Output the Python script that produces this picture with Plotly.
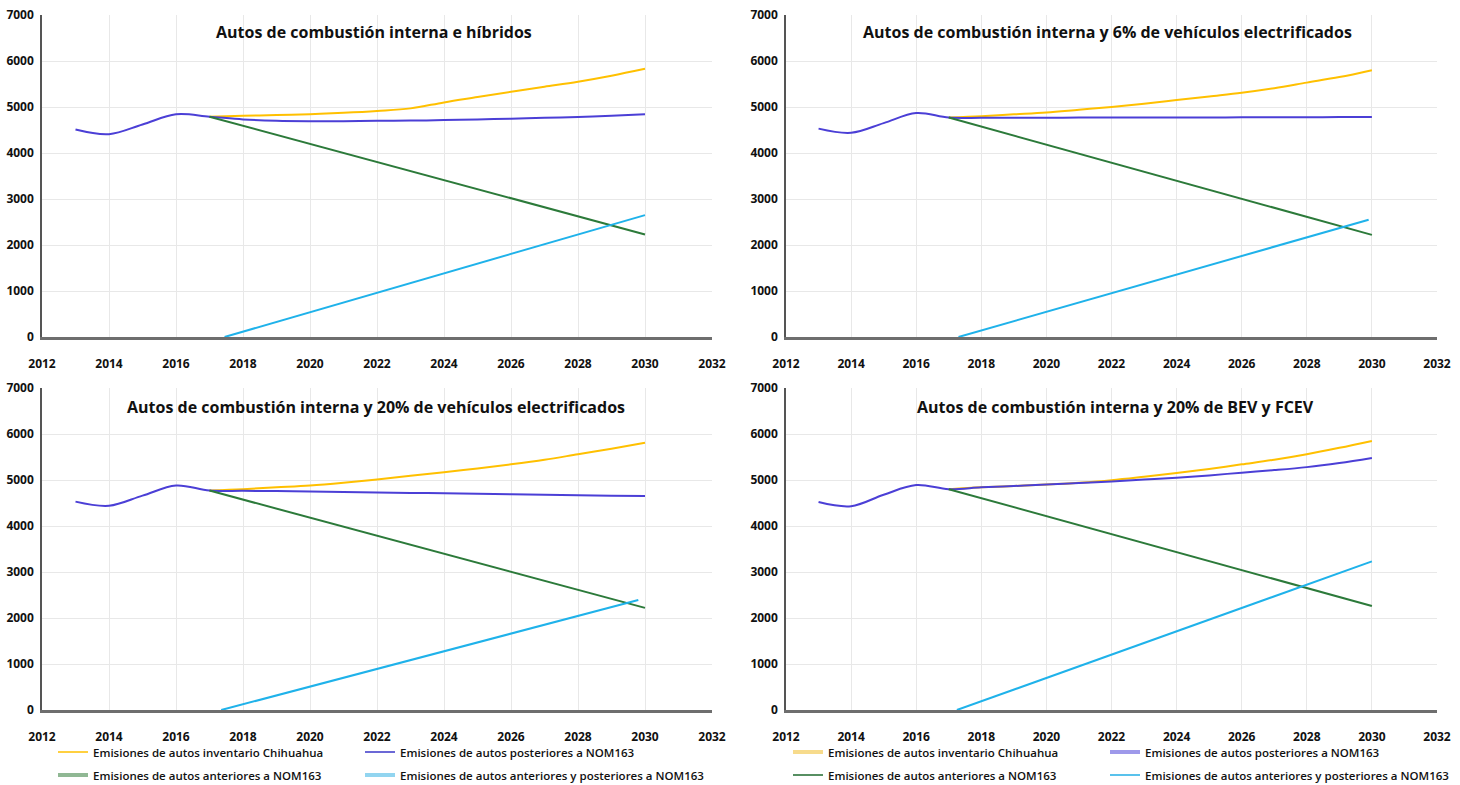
import plotly.graph_objects as go

# ---------------- data ----------------
years_hist = [2013, 2014, 2015, 2016, 2017]
years_proj = [2018, 2019, 2020, 2021, 2022, 2023, 2024, 2025, 2026, 2027, 2028, 2029, 2030]
years_yellow = [2017] + years_proj

titles = [
    "Autos de combustión interna e híbridos",
    "Autos de combustión interna y 6% de vehículos electrificados",
    "Autos de combustión interna y 20% de vehículos electrificados",
    "Autos de combustión interna y 20% de BEV y FCEV",
]

legend_names = [
    "Emisiones de autos inventario Chihuahua",
    "Emisiones de autos posteriores a NOM163",
    "Emisiones de autos anteriores a NOM163",
    "Emisiones de autos anteriores y posteriores a NOM163",
]

# Panel 1: combustión interna e híbridos
blue_hist_p1 = [4510, 4410, 4620, 4840, 4790]
blue_proj_p1 = [4730, 4700, 4690, 4690, 4700, 4705, 4715, 4730, 4745, 4765, 4785, 4810, 4840]
yellow_p1 = [4790, 4810, 4825, 4845, 4875, 4915, 4970, 5100, 5215, 5330, 5440, 5550, 5680, 5830]
green_x_p1 = [2017, 2030]
green_y_p1 = [4790, 2230]
cyan_x_p1 = [2017.45, 2030]
cyan_y_p1 = [0, 2650]

# Panel 2: 6% electrificados
blue_hist_p2 = [4530, 4440, 4650, 4870, 4770]
blue_proj_p2 = [4765, 4765, 4765, 4770, 4770, 4770, 4770, 4770, 4775, 4775, 4775, 4780, 4780]
yellow_p2 = [4770, 4800, 4840, 4880, 4940, 5000, 5070, 5150, 5230, 5310, 5410, 5530, 5650, 5800]
green_x_p2 = [2017, 2030]
green_y_p2 = [4770, 2220]
cyan_x_p2 = [2017.3, 2029.9]
cyan_y_p2 = [0, 2550]

# Panel 3: 20% electrificados
blue_hist_p3 = [4530, 4440, 4660, 4880, 4770]
blue_proj_p3 = [4765, 4760, 4750, 4740, 4730, 4720, 4710, 4700, 4690, 4680, 4670, 4660, 4650]
yellow_p3 = [4770, 4800, 4840, 4880, 4940, 5010, 5090, 5170, 5250, 5340, 5440, 5560, 5680, 5810]
green_x_p3 = [2017, 2030]
green_y_p3 = [4770, 2220]
cyan_x_p3 = [2017.35, 2029.8]
cyan_y_p3 = [0, 2390]

# Panel 4: 20% BEV y FCEV
blue_hist_p4 = [4520, 4430, 4680, 4890, 4800]
blue_proj_p4 = [4840, 4870, 4900, 4935, 4970, 5010, 5050, 5100, 5160, 5215, 5280, 5370, 5480]
yellow_p4 = [4800, 4840, 4870, 4900, 4940, 4995, 5070, 5150, 5240, 5340, 5440, 5560, 5700, 5850]
green_x_p4 = [2017, 2030]
green_y_p4 = [4800, 2260]
cyan_x_p4 = [2017.25, 2030]
cyan_y_p4 = [0, 3230]

x_ticks = [2012, 2014, 2016, 2018, 2020, 2022, 2024, 2026, 2028, 2030, 2032]
y_ticks = [0, 1000, 2000, 3000, 4000, 5000, 6000, 7000]

panels = [
    (blue_hist_p1, blue_proj_p1, yellow_p1, green_x_p1, green_y_p1, cyan_x_p1, cyan_y_p1),
    (blue_hist_p2, blue_proj_p2, yellow_p2, green_x_p2, green_y_p2, cyan_x_p2, cyan_y_p2),
    (blue_hist_p3, blue_proj_p3, yellow_p3, green_x_p3, green_y_p3, cyan_x_p3, cyan_y_p3),
    (blue_hist_p4, blue_proj_p4, yellow_p4, green_x_p4, green_y_p4, cyan_x_p4, cyan_y_p4),
]

# ---------------- styles ----------------
YELLOW = "#FFC000"
BLUE = "#4B3FD6"
GREEN = "#2C7A3A"
CYAN = "#1FB2EA"

W, H = 1460, 785
FONT = "Open Sans"

x_domains = [(42 / W, 712 / W), (786 / W, 1437 / W), (42 / W, 712 / W), (786 / W, 1437 / W)]
y_domains = [(1 - 337 / H, 1 - 15 / H), (1 - 337 / H, 1 - 15 / H),
             (1 - 710 / H, 1 - 388 / H), (1 - 710 / H, 1 - 388 / H)]
title_pos = [(374 / W, 1 - 32 / H), (1107 / W, 1 - 32 / H),
             (376 / W, 1 - 407 / H), (1115 / W, 1 - 407 / H)]

fig = go.Figure()

for i, (bh, bp, yl, gx, gy, cx, cy) in enumerate(panels):
    ax = "" if i == 0 else str(i + 1)
    xa, ya = "x" + ax, "y" + ax
    fig.add_trace(go.Scatter(x=years_yellow, y=yl, mode="lines", xaxis=xa, yaxis=ya,
                             line=dict(color=YELLOW, width=2, shape="spline"),
                             showlegend=False, hoverinfo="skip"))
    fig.add_trace(go.Scatter(x=years_hist + years_proj, y=bh + bp, mode="lines", xaxis=xa, yaxis=ya,
                             line=dict(color=BLUE, width=2, shape="spline"),
                             showlegend=False, hoverinfo="skip"))
    fig.add_trace(go.Scatter(x=gx, y=gy, mode="lines", xaxis=xa, yaxis=ya,
                             line=dict(color=GREEN, width=2),
                             showlegend=False, hoverinfo="skip"))
    fig.add_trace(go.Scatter(x=cx, y=cy, mode="lines", xaxis=xa, yaxis=ya,
                             line=dict(color=CYAN, width=2),
                             showlegend=False, hoverinfo="skip"))

    axis_common = dict(showgrid=True, gridcolor="#E8E8E8", gridwidth=1,
                       tickfont=dict(family=FONT, size=12, color="#111", weight=700),
                       zeroline=False, fixedrange=True, automargin=False)
    fig.layout["xaxis" + ax] = dict(axis_common, domain=x_domains[i], anchor=ya,
                                    range=[2012, 2032], tickvals=x_ticks,
                                    showline=True, linecolor="#6E6E6E", linewidth=3,
                                    ticks="outside", ticklen=14, tickcolor="rgba(0,0,0,0)")
    fig.layout["yaxis" + ax] = dict(axis_common, domain=y_domains[i], anchor=xa,
                                    range=[0, 7000], tickvals=y_ticks,
                                    showline=True, linecolor="#555555", linewidth=1.5,
                                    ticks="outside", ticklen=4, tickcolor="rgba(0,0,0,0)")
    fig.add_annotation(text=titles[i], x=title_pos[i][0], y=title_pos[i][1],
                       xref="paper", yref="paper", showarrow=False,
                       xanchor="center", yanchor="middle",
                       font=dict(family=FONT, size=16, color="#111", weight=700))

# ---------------- legends (one per entry) ----------------
left_styles = [
    dict(color=YELLOW, width=1.5),
    dict(color="#3A36C8", width=1.5),
    dict(color="#90B894", width=4),
    dict(color="#92D5F0", width=4),
]
right_styles = [
    dict(color="#F7DB8C", width=4),
    dict(color="#9E99EA", width=4),
    dict(color="#1F6A2E", width=1.5),
    dict(color="#22AEE6", width=1.5),
]
# sample start x (px) and row center y (px) for each entry index
col_x_left = [58, 365, 58, 365]
col_x_right = [793, 1110, 793, 1110]
row_y = [752, 752, 775, 775]

n = 1
for styles, col_x in ((left_styles, col_x_left), (right_styles, col_x_right)):
    for k in range(4):
        lg = "legend" if n == 1 else "legend%d" % n
        fig.add_trace(go.Scatter(x=[None], y=[None], mode="lines", name=legend_names[k],
                                 line=styles[k], legend=lg, showlegend=True, hoverinfo="skip"))
        fig.layout[lg] = dict(x=(col_x[k] - 5) / W, y=1 - row_y[k] / H,
                              xanchor="left", yanchor="middle",
                              orientation="h", itemwidth=30,
                              bgcolor="rgba(0,0,0,0)", borderwidth=0,
                              font=dict(family=FONT, size=11.5, color="#111", weight=600))
        n += 1

fig.update_layout(width=W, height=H,
                  margin=dict(l=0, r=0, t=0, b=0, autoexpand=False),
                  paper_bgcolor="white", plot_bgcolor="white", showlegend=True)

fig.write_html("out.html", config={"displayModeBar": False},
               post_script="document.body.style.margin='0';document.body.style.overflow='hidden';")
